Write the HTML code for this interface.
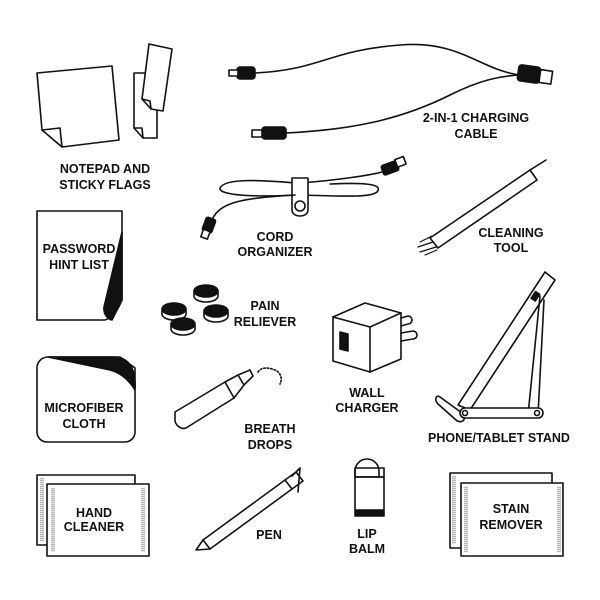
<!DOCTYPE html>
<html><head><meta charset="utf-8"><style>
html,body{margin:0;padding:0;background:#fff}
svg{display:block}
text{font-family:"Liberation Sans",sans-serif;font-weight:bold;font-size:12.5px;fill:#111;text-anchor:middle}
</style></head><body>
<svg width="600" height="600" viewBox="0 0 600 600" xmlns="http://www.w3.org/2000/svg">
<g fill="none" stroke="#111" stroke-width="1.6" stroke-linejoin="round" stroke-linecap="round">
<!-- notepad -->
<path d="M37,73 L112,66 L119,140 L62,147 L42,130 Z" fill="#fff"/>
<path d="M42,130 L60,128 L62,147"/>
<!-- flags -->
<path d="M134,73 L157,73 L157,138 L143,138 L134,128 Z" fill="#fff"/>
<path d="M134,128 L142,128 L143,138"/>
<path d="M149,44 L172,49 L163,111 L151,109 L142,99 Z" fill="#fff"/>
<path d="M142,99 L150,101 L151,109"/>
<!-- charging cable -->
<path d="M255,73 C320,70 330,50 400,45 C460,40 480,70 520,75"/>
<path d="M285,133 C350,130 400,120 450,95 C480,80 500,76 520,75"/>
<rect x="237" y="67" width="18" height="12" rx="3" fill="#111"/>
<rect x="229" y="70" width="9" height="6" fill="#fff"/>
<rect x="262" y="127" width="24" height="12" rx="3" fill="#111"/>
<rect x="252" y="130" width="10" height="7" fill="#fff"/>
<rect x="518" y="66" width="22" height="16" rx="3" fill="#111" transform="rotate(8 529 74)"/>
<rect x="540" y="68" width="12" height="13" fill="#fff" transform="rotate(8 529 74)"/>
<!-- cord organizer -->
<path d="M295,183 C260,180 225,178 220,188 C218,196 260,197 295,195"/>
<path d="M300,183 C340,180 370,175 382,172"/>
<path d="M300,195 C340,196 370,198 377,192 C383,185 370,182 330,184"/>
<path d="M292,178 L308,178 L308,210 C308,218 292,218 292,210 Z" fill="#fff"/>
<circle cx="300" cy="206" r="5"/>
<path d="M295,195 C250,198 220,200 212,220"/>
<rect x="382" y="163" width="16" height="10" rx="2" fill="#111" transform="rotate(-20 390 168)"/>
<rect x="396" y="158" width="9" height="8" fill="#fff" transform="rotate(-20 400 162)"/>
<rect x="204" y="218" width="10" height="14" rx="2" fill="#111" transform="rotate(20 209 225)"/>
<rect x="202" y="230" width="7" height="8" fill="#fff" transform="rotate(20 205 234)"/>
<!-- cleaning tool -->
<path d="M430,238 L530,170 L537,180 L438,248 Z" fill="#fff"/>
<path d="M530,170 L546,160"/>
<path d="M420,242 L432,236 M418,247 L433,242 M420,252 L436,247 M425,255 L437,250" stroke-width="1.2"/>
<!-- password list -->
<path d="M37,211 L122,211 L122,300 C118,310 112,318 105,320 L37,320 Z" fill="#fff"/>
<path d="M122,232 L104,307 C103,316 110,320 112,320 L122,300 Z" fill="#111"/>
<!-- pain reliever -->
<path d="M194,292 v4 a12,6 0 0 0 24,0 v-4 M162,310 v4 a12,6 0 0 0 24,0 v-4 M204,312 v4 a12,6 0 0 0 24,0 v-4 M171,325 v4 a12,6 0 0 0 24,0 v-4"/>
<g fill="#111">
<ellipse cx="206" cy="291" rx="12" ry="6"/><ellipse cx="174" cy="309" rx="12" ry="6"/>
<ellipse cx="216" cy="311" rx="12" ry="6"/><ellipse cx="183" cy="324" rx="12" ry="6"/></g>
<!-- wall charger -->
<path d="M333,317 L365,303 L401,313 L401,359 L370,372 L333,361 Z" fill="#fff"/>
<path d="M333,317 L370,327 L401,313 M370,327 L370,372"/>
<path d="M340,332 L348,334 L348,351 L340,349 Z" fill="#111"/>
<path d="M401,318 L408,316 a4,4 0 0 1 0,8 L401,326 M401,333 L413,331 a4,4 0 0 1 0,8 L401,341"/>
<!-- microfiber cloth -->
<path d="M48,357 L120,357 L135,368 L135,432 a10,10 0 0 1 -10,10 L47,442 a10,10 0 0 1 -10,-10 L37,368 a11,11 0 0 1 11,-11 Z" fill="#fff"/>
<path d="M48,357 L115,357 C130,358 136,370 135,390 C128,378 118,372 110,370 Z" fill="#111"/>
<!-- breath drops -->
<path d="M175,412 L225,382 L234,398 L186,428 C180,430 175,424 175,420 Z" fill="#fff"/>
<path d="M225,382 L238,375 L244,385 L234,398 M238,375 L250,370 L253,376 L244,385"/>
<path d="M258,372 C262,366 270,368 275,370 C280,372 283,378 280,384" stroke-dasharray="1.5,2"/>
<!-- phone stand -->
<path d="M458,405 L545,272 L555,280 L470,410 Z" fill="#fff"/>
<path d="M540,296 L528,415 M544,300 L538,415"/>
<path d="M440,397 L462,413 C468,418 462,425 456,420 L438,404 C434,400 436,394 440,397 Z" fill="#fff"/>
<rect x="460" y="408" width="83" height="10" rx="5" fill="#fff"/>
<circle cx="465" cy="413" r="2.5"/><circle cx="537" cy="413" r="2.5"/>
<rect x="533" y="292" width="5" height="8" fill="#111" transform="rotate(33 535 296)"/>
<!-- hand cleaner -->
<rect x="37" y="475" width="98" height="70" fill="#fff"/>
<rect x="47" y="484" width="102" height="72" fill="#fff"/>
<path d="M41,478 v63 M43,478 v63 M52,488 v64 M54,488 v64 M144,488 v64 M142,488 v64" stroke-width="0.6" stroke-dasharray="1,1"/>
<!-- pen -->
<path d="M203,540 L285,480 L292,489 L210,549 Z" fill="#fff"/>
<path d="M203,540 L196,550 L210,549"/>
<path d="M285,480 L296,472 L303,481 L292,489 M292,476 L300,468 L298,492" />
<!-- lip balm -->
<path d="M355,471 a12,12 0 0 1 24,0 v6 h-24 Z" fill="#fff"/>
<rect x="355" y="477" width="29" height="39" fill="#fff"/>
<rect x="355" y="468" width="29" height="9" fill="none"/>
<rect x="356" y="510" width="27" height="5" fill="#111"/>
<!-- stain remover -->
<rect x="450" y="473" width="102" height="75" fill="#fff"/>
<rect x="461" y="483" width="102" height="73" fill="#fff"/>
<path d="M453,476 v68 M455,476 v68 M465,487 v66 M467,487 v66 M558,487 v66 M560,487 v66" stroke-width="0.6" stroke-dasharray="1,1"/>
</g>
<text x="105" y="173">NOTEPAD AND</text><text x="105" y="189">STICKY FLAGS</text>
<text x="476" y="122">2-IN-1 CHARGING</text><text x="476" y="138">CABLE</text>
<text x="275" y="241">CORD</text><text x="275" y="256">ORGANIZER</text>
<text x="511" y="237">CLEANING</text><text x="511" y="252">TOOL</text>
<text x="79" y="253">PASSWORD</text><text x="79" y="269">HINT LIST</text>
<text x="265" y="310">PAIN</text><text x="265" y="326">RELIEVER</text>
<text x="367" y="397">WALL</text><text x="367" y="412">CHARGER</text>
<text x="84" y="412">MICROFIBER</text><text x="84" y="428">CLOTH</text>
<text x="270" y="433">BREATH</text><text x="270" y="449">DROPS</text>
<text x="499" y="442">PHONE/TABLET STAND</text>
<text x="94" y="517">HAND</text><text x="94" y="531">CLEANER</text>
<text x="269" y="539">PEN</text>
<text x="367" y="538">LIP</text><text x="367" y="553">BALM</text>
<text x="511" y="513">STAIN</text><text x="511" y="529">REMOVER</text>
</svg>
</body></html>
